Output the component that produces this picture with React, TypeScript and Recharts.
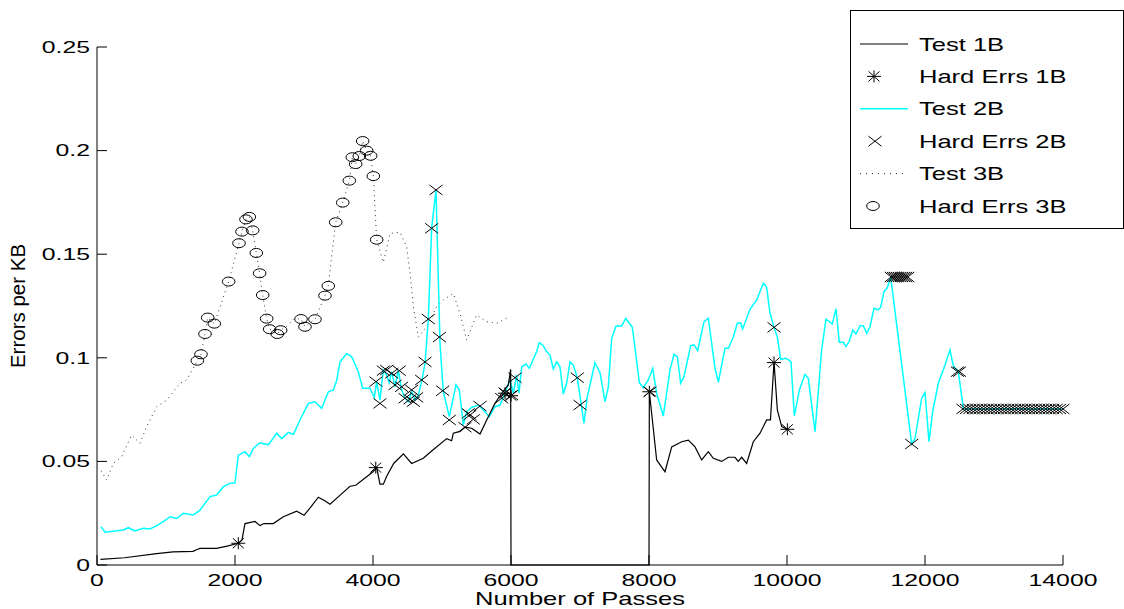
import React from 'react';
import { ComposedChart, Line, Scatter, XAxis, YAxis, Legend } from 'recharts';

const FONT = '"Liberation Sans", Arial, Helvetica, sans-serif';

const passTicks = [0, 2000, 4000, 6000, 8000, 10000, 12000, 14000];
const errTicks = [0, 0.05, 0.1, 0.15, 0.2, 0.25];

// [passes, errors per KB]
const test1B: [number, number][] = [
  [50, 0.0027], [400, 0.0035], [865, 0.0055], [1100, 0.0063], [1391, 0.0066], [1450, 0.0075],
  [1493, 0.008], [1734, 0.008], [1900, 0.0092], [2048, 0.0105], [2100, 0.012], [2145, 0.02],
  [2290, 0.021], [2362, 0.019], [2420, 0.02], [2555, 0.02], [2700, 0.0233], [2894, 0.026],
  [3000, 0.024], [3100, 0.028], [3208, 0.0327], [3300, 0.031], [3377, 0.0293], [3500, 0.033],
  [3667, 0.038], [3750, 0.0385], [3908, 0.0426], [4000, 0.045], [4053, 0.047], [4101, 0.039],
  [4150, 0.039], [4200, 0.043], [4300, 0.049], [4440, 0.0536], [4560, 0.049], [4729, 0.0515],
  [4850, 0.055], [5068, 0.061], [5140, 0.06], [5164, 0.0636], [5261, 0.0645], [5333, 0.0665],
  [5430, 0.066], [5551, 0.0632], [5648, 0.07], [5768, 0.078], [5865, 0.0829], [5961, 0.0869],
  [5995, 0.0944], [6000, 0], [8000, 0], [8005, 0.0836], [8111, 0.0507], [8232, 0.045],
  [8329, 0.057], [8474, 0.0595], [8570, 0.0603], [8667, 0.057], [8763, 0.0507], [8860, 0.0547],
  [8932, 0.0515], [9053, 0.05], [9150, 0.052], [9246, 0.052], [9294, 0.05], [9343, 0.052],
  [9415, 0.049], [9512, 0.0595], [9609, 0.0636], [9705, 0.07], [9760, 0.07], [9812, 0.098],
  [9860, 0.0748], [9923, 0.0668], [10005, 0.0655],
];

const hardErrs1B: [number, number][] = [
  [2048, 0.0105], [4040, 0.047], [5913, 0.0829], [6000, 0.0817], [8005, 0.0836],
  [9812, 0.0977], [10005, 0.0655],
];

const test2B: [number, number][] = [
  [58, 0.0185], [116, 0.0158], [381, 0.0169], [454, 0.018], [551, 0.0164], [671, 0.0177],
  [768, 0.0174], [865, 0.019], [961, 0.0209], [1058, 0.0233], [1155, 0.0225], [1251, 0.025],
  [1396, 0.0241], [1493, 0.0265], [1638, 0.033], [1734, 0.0338], [1831, 0.0378], [1928, 0.0394],
  [2000, 0.0397], [2048, 0.053], [2145, 0.0547], [2208, 0.0523], [2266, 0.0563], [2362, 0.059],
  [2483, 0.058], [2604, 0.0636], [2676, 0.061], [2773, 0.064], [2845, 0.063], [2942, 0.07],
  [3063, 0.078], [3159, 0.0788], [3256, 0.0756], [3353, 0.0836], [3425, 0.0845], [3474, 0.089],
  [3522, 0.0981], [3619, 0.102], [3691, 0.1005], [3787, 0.0933], [3850, 0.0853], [3957, 0.0853],
  [4019, 0.0809], [4053, 0.0885], [4101, 0.0796], [4150, 0.0941], [4198, 0.0917], [4235, 0.088],
  [4271, 0.0933], [4319, 0.086], [4367, 0.0941], [4415, 0.0845], [4464, 0.0805], [4512, 0.0788],
  [4560, 0.0836], [4609, 0.0796], [4657, 0.082], [4705, 0.0885], [4754, 0.0973], [4802, 0.1187],
  [4850, 0.1625], [4913, 0.181], [4971, 0.107], [5019, 0.0836], [5106, 0.0716], [5203, 0.0869],
  [5251, 0.0845], [5309, 0.0676], [5357, 0.074], [5430, 0.076], [5526, 0.0772], [5599, 0.0748],
  [5686, 0.0716], [5768, 0.0764], [5841, 0.0772], [5913, 0.0832], [5986, 0.0893], [6034, 0.0829],
  [6082, 0.0917], [6116, 0.0829], [6155, 0.0957], [6217, 0.097], [6266, 0.0949], [6372, 0.103],
  [6410, 0.1073], [6459, 0.1062], [6517, 0.103], [6565, 0.1013], [6613, 0.0946], [6662, 0.0981],
  [6710, 0.0957], [6758, 0.0825], [6807, 0.0877], [6855, 0.0981], [6903, 0.0965], [6961, 0.0904],
  [7058, 0.0684], [7106, 0.0812], [7217, 0.0976], [7290, 0.0928], [7362, 0.0788], [7411, 0.086],
  [7459, 0.1094], [7522, 0.1153], [7604, 0.1153], [7662, 0.119], [7758, 0.1147], [7812, 0.1009],
  [7860, 0.088], [7918, 0.0856], [7990, 0.0893], [8053, 0.0949], [8111, 0.0829], [8207, 0.0719],
  [8304, 0.0941], [8362, 0.1017], [8411, 0.1005], [8459, 0.0877], [8507, 0.0909], [8604, 0.1059],
  [8652, 0.1062], [8705, 0.1034], [8797, 0.1174], [8860, 0.119], [8957, 0.0949], [9005, 0.0882],
  [9101, 0.1046], [9150, 0.1046], [9222, 0.11], [9280, 0.1167], [9329, 0.1169], [9357, 0.1139],
  [9464, 0.1234], [9561, 0.1279], [9657, 0.136], [9705, 0.134], [9754, 0.1215], [9812, 0.1147],
  [9860, 0.11], [9909, 0.0993], [9986, 0.0998], [10058, 0.0981], [10106, 0.0719], [10179, 0.0845],
  [10261, 0.092], [10309, 0.0901], [10406, 0.0643], [10502, 0.1038], [10565, 0.1187],
  [10656, 0.1163], [10710, 0.1236], [10758, 0.1075], [10816, 0.1075], [10855, 0.1054],
  [10903, 0.1081], [10952, 0.1134], [11000, 0.1115], [11058, 0.1155], [11106, 0.1155],
  [11155, 0.1118], [11203, 0.115], [11261, 0.1239], [11323, 0.1231], [11358, 0.1244],
  [11406, 0.1319], [11454, 0.1338], [11503, 0.1389], [11807, 0.0584], [11855, 0.0611],
  [11952, 0.0805], [12000, 0.0832], [12058, 0.0595], [12111, 0.074], [12193, 0.0877],
  [12290, 0.0965], [12362, 0.1038], [12411, 0.096], [12483, 0.0933], [12556, 0.0753],
  [14000, 0.0753],
];

const hardErrs2B: [number, number][] = [
  [4043, 0.0885], [4101, 0.078], [4150, 0.0938], [4198, 0.0941], [4271, 0.0925], [4319, 0.0869],
  [4381, 0.0938], [4415, 0.086], [4464, 0.0805], [4536, 0.08], [4560, 0.0845], [4585, 0.0788],
  [4633, 0.0809], [4705, 0.0893], [4754, 0.098], [4802, 0.1187], [4850, 0.1625], [4913, 0.181],
  [4962, 0.11], [5010, 0.0841], [5106, 0.07], [5333, 0.0665], [5381, 0.0732], [5406, 0.0724],
  [5454, 0.0703], [5551, 0.0767], [5865, 0.0805], [5913, 0.0832], [6010, 0.082], [6058, 0.0904],
  [6961, 0.0904], [7000, 0.0772], [8014, 0.0836], [9812, 0.1147],
  [11510, 0.139], [11540, 0.139], [11570, 0.139], [11600, 0.139], [11630, 0.139], [11660, 0.139],
  [11690, 0.139], [11720, 0.139], [11750, 0.139],
  [11807, 0.0584], [12470, 0.0933], [12500, 0.0933],
  [12550, 0.0753], [12600, 0.0753], [12650, 0.0753], [12700, 0.0753], [12750, 0.0753],
  [12800, 0.0753], [12850, 0.0753], [12900, 0.0753], [12950, 0.0753], [13000, 0.0753],
  [13050, 0.0753], [13100, 0.0753], [13150, 0.0753], [13200, 0.0753], [13250, 0.0753],
  [13300, 0.0753], [13350, 0.0753], [13400, 0.0753], [13450, 0.0753], [13500, 0.0753],
  [13550, 0.0753], [13600, 0.0753], [13650, 0.0753], [13700, 0.0753], [13750, 0.0753],
  [13800, 0.0753], [13850, 0.0753], [13900, 0.0753], [13950, 0.0753], [14000, 0.0753],
];

const test3B: [number, number][] = [
  [58, 0.0455], [140, 0.041], [236, 0.049], [357, 0.0523], [502, 0.0627], [623, 0.0587],
  [720, 0.0668], [865, 0.0764], [1010, 0.0796], [1203, 0.0877], [1300, 0.0893], [1454, 0.0986],
  [1507, 0.1017], [1565, 0.1115], [1604, 0.1194], [1700, 0.1165], [1908, 0.1368], [2058, 0.1553],
  [2101, 0.1609], [2159, 0.1668], [2208, 0.168], [2256, 0.1615], [2309, 0.1506], [2357, 0.1408],
  [2401, 0.1303], [2459, 0.1189], [2502, 0.1138], [2613, 0.1115], [2662, 0.1133], [2760, 0.1155],
  [2860, 0.119], [2957, 0.1187], [3014, 0.115], [3159, 0.1186], [3304, 0.13], [3352, 0.1347],
  [3459, 0.1654], [3561, 0.1749], [3657, 0.1855], [3700, 0.1968], [3749, 0.1935], [3802, 0.1974],
  [3850, 0.2046], [3908, 0.2], [3966, 0.1975], [4005, 0.1877], [4053, 0.157], [4150, 0.146],
  [4246, 0.16], [4391, 0.1606], [4488, 0.1536], [4536, 0.141], [4585, 0.1247], [4657, 0.11],
  [4778, 0.115], [4923, 0.1247], [5019, 0.128], [5164, 0.131], [5261, 0.1215], [5357, 0.1086],
  [5502, 0.1207], [5648, 0.1174], [5793, 0.1167], [5961, 0.1195],
];

const hardErrs3B: [number, number][] = [
  [1454, 0.0986], [1507, 0.1017], [1565, 0.1115], [1604, 0.1194], [1700, 0.1165], [1908, 0.1368],
  [2058, 0.1553], [2101, 0.1609], [2159, 0.1668], [2208, 0.168], [2256, 0.1615], [2309, 0.1506],
  [2357, 0.1408], [2401, 0.1303], [2459, 0.1189], [2502, 0.1138], [2613, 0.1115], [2662, 0.1133],
  [2957, 0.1187], [3014, 0.115], [3159, 0.1186], [3304, 0.13], [3352, 0.1347], [3459, 0.1654],
  [3561, 0.1749], [3657, 0.1855], [3700, 0.1968], [3749, 0.1935], [3802, 0.1974], [3850, 0.2046],
  [3908, 0.2], [3966, 0.1975], [4005, 0.1877], [4053, 0.157],
];

const seriesNames = ['Test 1B', 'Hard Errs 1B', 'Test 2B', 'Hard Errs 2B', 'Test 3B', 'Hard Errs 3B'];

const pts = (arr: [number, number][]) => arr.map(([x, y]) => ({ x, y }));

const Asterisk = ({ cx, cy }: any) => (
  <g stroke="#000" strokeWidth={1}>
    <line x1={cx - 7} y1={cy} x2={cx + 7} y2={cy} />
    <line x1={cx} y1={cy - 6} x2={cx} y2={cy + 6} />
    <line x1={cx - 5.5} y1={cy - 5} x2={cx + 5.5} y2={cy + 5} />
    <line x1={cx - 5.5} y1={cy + 5} x2={cx + 5.5} y2={cy - 5} />
  </g>
);

const Cross = ({ cx, cy }: any) => (
  <g stroke="#000" strokeWidth={1}>
    <line x1={cx - 6.5} y1={cy - 5} x2={cx + 6.5} y2={cy + 5} />
    <line x1={cx - 6.5} y1={cy + 5} x2={cx + 6.5} y2={cy - 5} />
  </g>
);

const Ring = ({ cx, cy }: any) => (
  <ellipse cx={cx} cy={cy} rx={6.3} ry={4.5} fill="none" stroke="#000" strokeWidth={1} />
);

const XTick = (p: any) => (
  <g transform={`translate(${p.x},${p.y})`}>
    <text transform="scale(1.52,1)" textAnchor="middle" dy="0.71em" fontSize={16.3} fontFamily={FONT} fill="#000">
      {p.payload.value}
    </text>
  </g>
);

const YTick = (p: any) => (
  <g transform={`translate(${p.x},${p.y})`}>
    <text transform="scale(1.52,1)" textAnchor="end" dy="0.355em" fontSize={16.3} fontFamily={FONT} fill="#000">
      {String(parseFloat(Number(p.payload.value).toFixed(2)))}
    </text>
  </g>
);

const XTitle = (p: any) => {
  const vb = p.viewBox;
  return (
    <g transform={`translate(${vb.x + vb.width / 2},605)`}>
      <text transform="scale(1.38,1)" textAnchor="middle" fontSize={18.5} fontFamily={FONT} fill="#000">
        Number of Passes
      </text>
    </g>
  );
};

const YTitle = () => (
  <g transform="translate(25,306) rotate(-90)">
    <text textAnchor="middle" fontSize={20.5} fontFamily={FONT} fill="#000">
      Errors per KB
    </text>
  </g>
);

const LegendBox = () => (
  <svg width={274} height={219} style={{ display: 'block' }}>
    <rect x={0.5} y={0.5} width={273} height={218} fill="#fff" stroke="#000" />
    {seriesNames.map((name, i) => {
      const by = 40.5 + 32.4 * i;
      const my = by - 6.5;
      let sym: React.ReactNode = null;
      if (i === 0) sym = <line x1={10} y1={my} x2={58} y2={my} stroke="#000" />;
      if (i === 1) sym = <Asterisk cx={24} cy={my} />;
      if (i === 2) sym = <line x1={10} y1={my} x2={58} y2={my} stroke="#00ffff" strokeWidth={1.5} />;
      if (i === 3) sym = <Cross cx={25} cy={my} />;
      if (i === 4) sym = <line x1={10} y1={my} x2={58} y2={my} stroke="#333" strokeDasharray="1 5" />;
      if (i === 5) sym = <Ring cx={23} cy={my} />;
      return (
        <g key={name}>
          {sym}
          <g transform={`translate(69,${by})`}>
            <text transform="scale(1.38,1)" fontSize={18.5} fontFamily={FONT} fill="#000">
              {name}
            </text>
          </g>
        </g>
      );
    })}
  </svg>
);

export default function App() {
  return (
    <div style={{ position: 'absolute', left: 0, top: 0, background: '#fff' }}>
      <ComposedChart width={1124} height={609} margin={{ top: 47, right: 61, bottom: 0, left: 0 }}>
        <XAxis
          type="number"
          dataKey="x"
          domain={[0, 14000]}
          ticks={passTicks}
          height={44}
          axisLine={{ stroke: '#000' }}
          tickLine={{ stroke: '#000' }}
          tickSize={-10}
          tickMargin={19}
          tick={<XTick />}
          interval={0}
          label={XTitle}
        />
        <YAxis
          type="number"
          dataKey="y"
          domain={[0, 0.25]}
          ticks={errTicks}
          width={97}
          axisLine={{ stroke: '#000' }}
          tickLine={{ stroke: '#000' }}
          tickSize={-10}
          tickMargin={17}
          tick={<YTick />}
          interval={0}
          label={YTitle}
        />
        <Legend
          content={LegendBox}
          layout="vertical"
          align="center"
          verticalAlign="middle"
          wrapperStyle={{ left: 850, top: 10, width: 274, height: 219 }}
        />
        <Line data={pts(test3B)} dataKey="y" name="Test 3B" type="linear" stroke="#333" strokeWidth={1}
          strokeDasharray="1 4" dot={false} activeDot={false} isAnimationActive={false} />
        <Line data={pts(test2B)} dataKey="y" name="Test 2B" type="linear" stroke="#00ffff" strokeWidth={1.5}
          dot={false} activeDot={false} isAnimationActive={false} />
        <Line data={pts(test1B)} dataKey="y" name="Test 1B" type="linear" stroke="#000" strokeWidth={1.2}
          dot={false} activeDot={false} isAnimationActive={false} />
        <Scatter data={pts(hardErrs3B)} dataKey="y" name="Hard Errs 3B" shape={(p: any) => <Ring cx={p.cx} cy={p.cy} />}
          isAnimationActive={false} />
        <Scatter data={pts(hardErrs2B)} dataKey="y" name="Hard Errs 2B" shape={(p: any) => <Cross cx={p.cx} cy={p.cy} />}
          isAnimationActive={false} />
        <Scatter data={pts(hardErrs1B)} dataKey="y" name="Hard Errs 1B" shape={(p: any) => <Asterisk cx={p.cx} cy={p.cy} />}
          isAnimationActive={false} />
      </ComposedChart>
    </div>
  );
}
